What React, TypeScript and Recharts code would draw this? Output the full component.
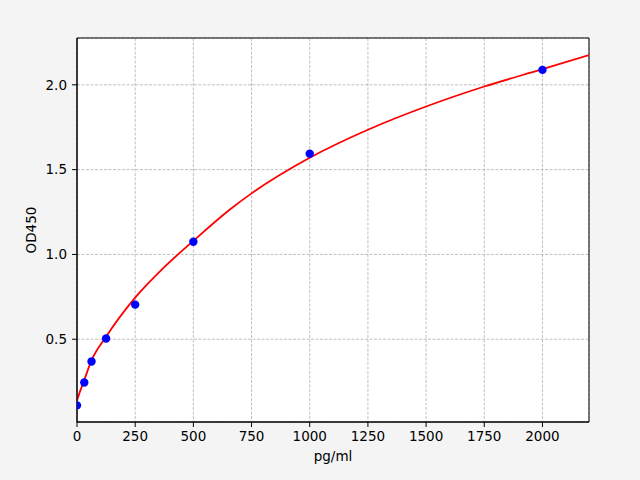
import { CartesianGrid, ComposedChart, Line, ReferenceArea, Scatter, XAxis, YAxis } from 'recharts';

// standard points (concentration, OD)
const concentrations = [0, 31.25, 62.5, 125, 250, 500, 1000, 2000];
const odValues = [0.11, 0.245, 0.369, 0.504, 0.704, 1.075, 1.594, 2.088];

// fitted curve
const curveX = [0, 15, 31.25, 62.5, 125, 250, 375, 500, 657, 750, 1000, 1250, 1500, 1750, 2000, 2200];
const curveY = [0.14, 0.2, 0.26, 0.375, 0.515, 0.745, 0.925, 1.08, 1.265, 1.36, 1.57, 1.735, 1.872, 1.99, 2.092, 2.175];

const xTicks = [0, 250, 500, 750, 1000, 1250, 1500, 1750, 2000];
const yTicks = [0.5, 1.0, 1.5, 2.0];

const xDomain = [0, 2200];
const yDomain = [0.012, 2.276];

const points = concentrations.map((x, i) => ({ x, y: odValues[i] }));
const curve = curveX.map((x, i) => ({ x, y: curveY[i] }));

const font = { fontSize: 13.5, fill: '#000', fontFamily: 'DejaVu Sans' };

export default function App() {
  return (
    <div style={{ position: 'absolute', left: 0, top: 0, width: 640, height: 480, background: '#f4f4f4' }}>
      <ComposedChart
        width={640}
        height={480}
        margin={{ top: 38, right: 51, bottom: 0, left: 17 }}
        style={{ fontFamily: 'DejaVu Sans' }}
      >
        <CartesianGrid
          stroke="#b0b0b0"
          strokeDasharray="3 1.5"
          strokeWidth={0.8}
          fill="#fff"
          fillOpacity={1}
        />
        <XAxis
          dataKey="x"
          type="number"
          domain={xDomain}
          ticks={xTicks}
          allowDataOverflow
          height={58}
          tick={font}
          tickSize={5}
          tickMargin={4}
          stroke="#000"
          tickLine={{ stroke: '#000' }}
          label={{ value: 'pg/ml', position: 'insideBottom', offset: 19, style: font }}
        />
        <YAxis
          dataKey="y"
          type="number"
          domain={yDomain}
          ticks={yTicks}
          allowDataOverflow
          width={60}
          tick={font}
          tickSize={5}
          tickMargin={5}
          tickFormatter={(v: number) => v.toFixed(1)}
          stroke="#000"
          tickLine={{ stroke: '#000' }}
          label={{ value: 'OD450', angle: -90, position: 'insideLeft', offset: 14, style: { ...font, textAnchor: 'middle' } }}
        />
        <Scatter
          data={points}
          dataKey="y"
          fill="#0000ff"
          isAnimationActive={false}
          shape={(p: any) => <circle cx={p.cx} cy={p.cy} r={4.2} fill="#0000ff" />}
        />
        <Line
          data={curve}
          dataKey="y"
          type="monotone"
          stroke="#ff0000"
          strokeWidth={1.8}
          dot={false}
          activeDot={false}
          isAnimationActive={false}
        />
        {/* frame round the plot area, like matplotlib's spines */}
        <ReferenceArea
          x1={xDomain[0]}
          x2={xDomain[1]}
          y1={yDomain[0]}
          y2={yDomain[1]}
          fill="none"
          stroke="#000"
          strokeWidth={1}
          fillOpacity={0}
        />
      </ComposedChart>
    </div>
  );
}
